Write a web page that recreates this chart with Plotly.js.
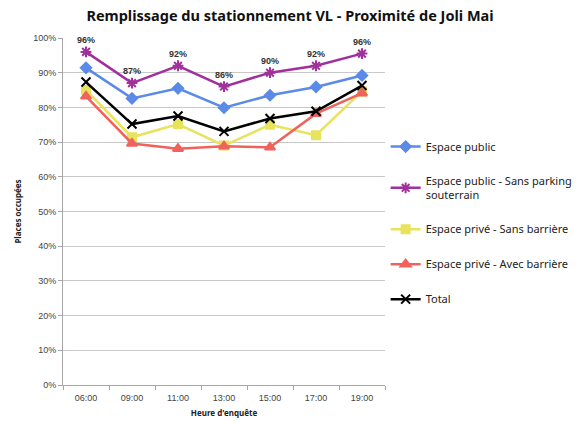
<!DOCTYPE html>
<html><head><meta charset="utf-8">
<script src="https://cdn.plot.ly/plotly-3.0.1.min.js"></script>
<style>body{margin:0;background:#fff}#chart{width:580px;height:423px}</style>
</head><body><div id="chart"></div>
<script>
const hours = ["06:00","09:00","11:00","13:00","15:00","17:00","19:00"];
const espacePublic = [91.4, 82.6, 85.5, 79.9, 83.5, 85.9, 89.2];
const espacePublicSansParking = [96, 87, 92, 86, 90, 92, 95.5];
const privéSansBarriere = [85.0, 71.4, 75.2, 69.0, 75.0, 72.0, 84.6];
const privéAvecBarriere = [83.2, 69.6, 68.1, 68.8, 68.5, 78.2, 84.1];
const total = [87.3, 75.2, 77.5, 73.1, 76.8, 78.9, 86.3];
const labels = ["96%","87%","92%","86%","90%","92%","96%"];

const mk = (name, y, color, symbol, size, extra) => Object.assign({
  x: hours, y: y, name: name, type: 'scatter', mode: 'lines+markers',
  line: {color: color, width: 2.5},
  marker: {symbol: symbol, size: size, color: color, line: {color: color, width: 2}},
  legendgroup: name
}, extra || {});

const traces = [
  mk('Espace public', espacePublic, '#5b8ae8', 'diamond', 8),
  mk('Espace public - Sans parking<br>souterrain', espacePublicSansParking, '#a0309c', 'asterisk-open', 9,
     {mode: 'lines+markers+text', text: labels, textposition: 'top center',
      textfont: {family: 'Liberation Sans, Arial', size: 9, color: '#333', weight: 'bold'}, cliponaxis: false}),
  mk('Espace privé - Sans barrière', privéSansBarriere, '#e8e35c', 'square', 8),
  mk('Espace privé - Avec barrière', privéAvecBarriere, '#f0625c', 'triangle-up', 9),
  mk('Total', total, '#000000', 'x-thin-open', 9)
];

const layout = {
  width: 580, height: 423,
  margin: {l: 63, r: 195, t: 38, b: 38, autoexpand: false},
  paper_bgcolor: '#fff', plot_bgcolor: '#fff',
  font: {family: 'Noto Sans, Arial', color: '#404040'},
  title: {text: '<b>Remplissage du stationnement VL - Proximité de Joli Mai</b>',
    x: 0.5, xref: 'container', xanchor: 'center', y: 0.975, yanchor: 'top',
    font: {family: 'Noto Sans', size: 14.5, color: '#111'}},
  xaxis: {
    type: 'category', showgrid: false, showline: true, linecolor: '#a6a6a6', linewidth: 1,
    ticks: 'outside', tickson: 'boundaries', ticklen: 4, tickcolor: '#a6a6a6',
    ticklabelstandoff: 4,
    tickfont: {family: 'Liberation Sans, Arial', size: 9, color: '#444'},
    title: {text: "<b>Heure d'enquête</b>", font: {family: 'Noto Sans', size: 8, color: '#222'}, standoff: 8},
    range: [-0.5, 6.5], fixedrange: true
  },
  yaxis: {
    range: [0, 100], dtick: 10, ticksuffix: '%', showgrid: true, gridcolor: '#c8c8c8', gridwidth: 1,
    showline: true, linecolor: '#a6a6a6', ticks: 'outside', ticklen: 4, tickcolor: '#a6a6a6',
    tickfont: {family: 'Liberation Sans, Arial', size: 9, color: '#444'},
    zeroline: false,
    title: {text: '<b>Places occupées</b>', font: {family: 'Noto Sans', size: 8, color: '#222'}, standoff: 10}
  },
  legend: {
    x: 1.002, xanchor: 'left', y: 0.729, yanchor: 'top',
    font: {family: 'Noto Sans', size: 11, color: '#222'},
    tracegroupgap: 16, itemwidth: 30, bgcolor: 'rgba(0,0,0,0)'
  },
  showlegend: true
};

Plotly.newPlot('chart', traces, layout, {displayModeBar: false, staticPlot: true});
</script>
</body></html>
